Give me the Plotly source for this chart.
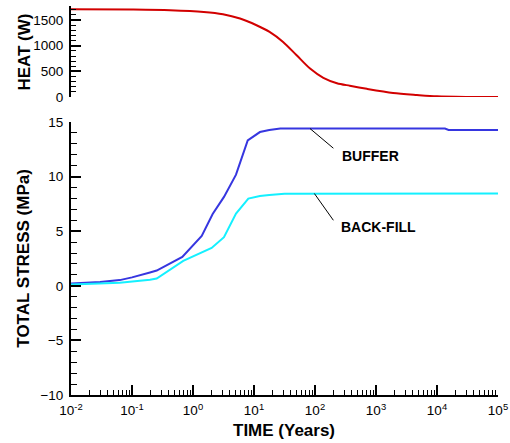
import plotly.graph_objects as go

# ---------------- data ----------------
heat_time = [0.01, 0.1, 0.42, 1.5, 3.1, 5.9, 11, 18, 30, 50, 83, 137, 229, 372, 708, 1905, 4677, 10000, 31623, 100000]
heat_w = [1710, 1705, 1693, 1660, 1615, 1531, 1400, 1270, 1074, 814, 555, 375, 270, 220, 160, 80, 40, 13, 2, 0]

buffer_time = [0.01, 0.03, 0.063, 0.1, 0.197, 0.254, 0.668, 1.39, 2.1, 3.22, 5.07, 7.89, 12.5, 17.8, 27, 13500, 15500, 100000]
buffer_mpa = [0.22, 0.35, 0.52, 0.77, 1.22, 1.40, 2.65, 4.57, 6.58, 8.14, 10.18, 13.32, 14.08, 14.26, 14.4, 14.4, 14.27, 14.27]

backfill_time = [0.01, 0.0316, 0.063, 0.197, 0.254, 0.692, 1.30, 2.02, 3.22, 5.07, 8.07, 12.5, 17.8, 31.6, 100000]
backfill_mpa = [0.13, 0.2, 0.28, 0.55, 0.67, 2.28, 2.96, 3.47, 4.45, 6.62, 7.99, 8.23, 8.32, 8.42, 8.45]

x_tickvals = [0.01, 0.1, 1, 10, 100, 1000, 10000, 100000]
x_ticktext = ["10<sup>-2</sup>", "10<sup>-1</sup>", "10<sup>0</sup>", "10<sup>1</sup>",
              "10<sup>2</sup>", "10<sup>3</sup>", "10<sup>4</sup>", "10<sup>5</sup>"]

labels = ["BUFFER", "BACK-FILL"]
titles = ["HEAT (W)", "TOTAL STRESS (MPa)", "TIME (Years)"]

# ---------------- layout constants ----------------
FONT = "Liberation Sans, Arial, sans-serif"
leader_buffer = dict(x=[82.8, 200], y=[14.4, 12.6])
leader_backfill = dict(x=[97.7, 200], y=[8.45, 6.0])
label_pos = [(2.41, 11.85), (2.39, 5.37)]  # (log10 time, MPa)
title_pos = [(-0.111, 0.8817, -90), (-0.112, 0.3509, -90), (0.4977, -0.0925, 0)]  # paper coords

fig = go.Figure()

fig.add_trace(go.Scatter(x=heat_time, y=heat_w, mode="lines",
                         line=dict(color="#d20000", width=2, shape="spline", smoothing=0.8),
                         xaxis="x2", yaxis="y2", showlegend=False, hoverinfo="skip"))
fig.add_trace(go.Scatter(x=buffer_time, y=buffer_mpa, mode="lines", line=dict(color="#3636e0", width=2),
                         showlegend=False))
fig.add_trace(go.Scatter(x=backfill_time, y=backfill_mpa, mode="lines", line=dict(color="#14f0ff", width=2),
                         showlegend=False))
for ld in (leader_buffer, leader_backfill):
    fig.add_trace(go.Scatter(x=ld["x"], y=ld["y"], mode="lines", line=dict(color="black", width=1),
                             showlegend=False, hoverinfo="skip"))

for txt, (lx, ly) in zip(labels, label_pos):
    fig.add_annotation(x=lx, y=ly, xref="x", yref="y", text="<b>%s</b>" % txt, showarrow=False,
                       xanchor="left", yanchor="middle", font=dict(family=FONT, size=14, color="black"))

titlefont = dict(family=FONT, size=17, color="black")
for txt, (tx, ty, ang) in zip(titles, title_pos):
    fig.add_annotation(x=tx, y=ty, xref="paper", yref="paper", text="<b>%s</b>" % txt, showarrow=False,
                       textangle=ang, xanchor="center", yanchor="middle", font=titlefont)

tickfont = dict(family=FONT, size=13.5, color="black")

fig.update_layout(
    width=510, height=443,
    margin=dict(l=71, r=12, t=6, b=48),
    paper_bgcolor="white", plot_bgcolor="white",
    xaxis=dict(type="log", range=[-2, 5], domain=[0, 1], anchor="y", automargin=False,
               tickvals=x_tickvals, ticktext=x_ticktext,
               showline=True, linecolor="black", linewidth=2, mirror=False,
               ticks="inside", ticklen=10, tickwidth=2, tickcolor="black",
               minor=dict(ticks="inside", ticklen=5, tickwidth=1, tickcolor="black", dtick="D1", showgrid=False),
               showgrid=False, zeroline=False, tickfont=tickfont, ticklabelstandoff=2),
    yaxis=dict(range=[-10, 15], domain=[0, 0.7018], anchor="x", automargin=False,
               tickvals=[-10, -5, 0, 5, 10, 15],
               showline=True, linecolor="black", linewidth=2,
               ticks="inside", ticklen=10, tickwidth=2, tickcolor="black",
               minor=dict(ticks="inside", ticklen=6, tickwidth=1, tickcolor="black", dtick=1, showgrid=False),
               showgrid=False, zeroline=False, tickfont=tickfont, ticklabelstandoff=3),
    xaxis2=dict(type="log", range=[-2, 5], domain=[0, 1], anchor="y2", visible=False, matches="x",
                automargin=False),
    yaxis2=dict(range=[0, 1775], domain=[0.766, 1], anchor="x2", automargin=False,
                tickvals=[0, 500, 1000, 1500],
                showline=True, linecolor="black", linewidth=2,
                ticks="inside", ticklen=10, tickwidth=2, tickcolor="black",
                minor=dict(ticks="inside", ticklen=5, tickwidth=1, tickcolor="black", dtick=100, showgrid=False),
                showgrid=False, zeroline=False, tickfont=tickfont, ticklabelstandoff=3),
)

fig.write_html("out.html")
